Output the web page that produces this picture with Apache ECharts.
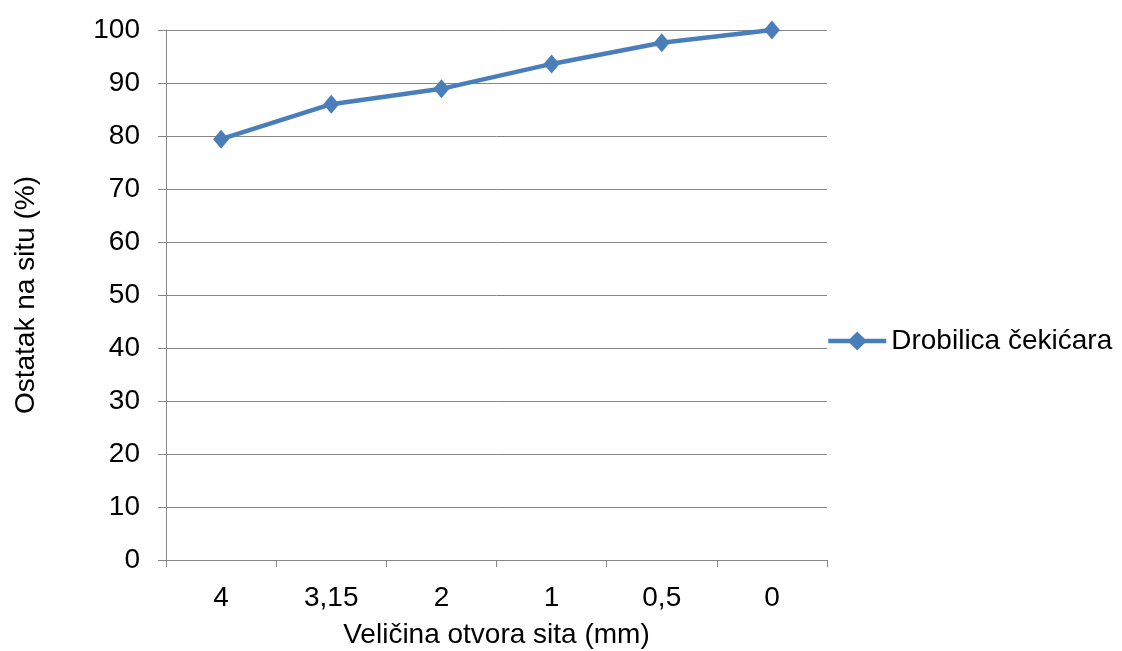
<!DOCTYPE html>
<html><head><meta charset="utf-8">
<script src="https://cdn.jsdelivr.net/npm/echarts@6/dist/echarts.min.js"></script>
<style>html,body{margin:0;padding:0;background:#fff}#c{width:1122px;height:651px}</style>
</head><body><div id="c"></div>
<script>
const categories = ['4', '3,15', '2', '1', '0,5', '0'];
const seriesName = 'Drobilica čekićara';
const values = [79.4, 86.0, 88.9, 93.6, 97.6, 100];
const yTicks = { min: 0, max: 100, interval: 10 };

const font = 'Liberation Sans, Arial, sans-serif';
const chart = echarts.init(document.getElementById('c'), null, { renderer: 'canvas' });
chart.setOption({
  animation: false,
  backgroundColor: '#fff',
  grid: { left: 166, right: 295, top: 30, bottom: 91, containLabel: false, outerBoundsMode: 'none' },
  legend: {
    left: 821, top: 322, orient: 'vertical',
    itemWidth: 58, itemHeight: 24, itemGap: 5,
    lineStyle: { width: 4.5 },
    textStyle: { fontFamily: font, fontSize: 28, color: '#000' },
    data: [seriesName]
  },
  xAxis: {
    type: 'category', data: categories, boundaryGap: true,
    name: 'Veličina otvora sita (mm)', nameLocation: 'middle', nameGap: 61,
    nameTextStyle: { fontFamily: font, fontSize: 28, color: '#000' },
    axisLine: { lineStyle: { color: '#868686', width: 1 } },
    axisTick: { show: true, length: 7, lineStyle: { color: '#868686' } },
    axisLabel: { fontFamily: font, fontSize: 28, color: '#000', margin: 24 }
  },
  yAxis: {
    type: 'value', min: yTicks.min, max: yTicks.max, interval: yTicks.interval,
    name: 'Ostatak na situ (%)', nameLocation: 'middle', nameGap: 126, nameRotate: 90,
    nameTextStyle: { fontFamily: font, fontSize: 28, color: '#000' },
    axisLine: { show: true, lineStyle: { color: '#868686', width: 1 } },
    axisTick: { show: true, length: 8, lineStyle: { color: '#868686' } },
    splitLine: { show: true, lineStyle: { color: '#868686', width: 1 } },
    axisLabel: { fontFamily: font, fontSize: 28, color: '#000', margin: 26 }
  },
  series: [{
    name: seriesName, type: 'line', data: values,
    symbol: 'diamond', symbolSize: [16, 19],
    lineStyle: { color: '#4a7ebb', width: 4.5 },
    itemStyle: { color: '#4a7ebb' }
  }]
});
</script></body></html>
